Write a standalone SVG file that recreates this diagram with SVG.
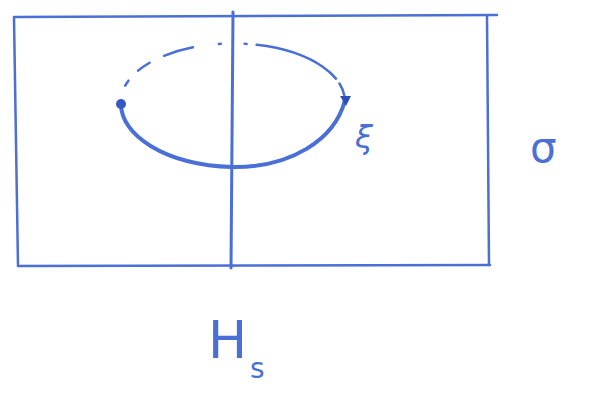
<svg xmlns="http://www.w3.org/2000/svg" width="596" height="393" viewBox="0 0 596 393">
<style>
.ln{fill:none;stroke:#4a6fd6;stroke-linecap:round;stroke-linejoin:round}
.lb{fill:#4a6fd6;font-family:"DejaVu Sans",sans-serif}
</style>
<rect width="596" height="393" fill="#ffffff"/>
<g id="plane">
<path class="ln" stroke-width="2.5" d="M14,17 L497,15"/>
<path class="ln" stroke-width="2.5" d="M14,18 L18,266 L490,265"/>
<path class="ln" stroke-width="2.5" d="M487,16 L489,265"/>
</g>
<g id="axis">
<path class="ln" stroke-width="3" stroke="#3f63cf" d="M233,12 L231,268"/>
</g>
<g id="loop">
<path class="ln" stroke-width="2.5" stroke-dasharray="0 18 6 14 14 16 30 26 2 24 2 10 70" d="M121,103 A112,58 0 0 1 345,100"/>
<path class="ln" stroke-width="4" stroke="#3558c4" d="M121,103 C120,135 165,165 232,167 C290,168 335,140 345,100"/>
<circle cx="121" cy="104" r="5" fill="#3558c4"/>
<path d="M340,96 L351,96 L346,106 Z" fill="#2f4fb8"/>
</g>
<g id="labels">
<text class="lb" x="355" y="148" font-size="32" font-style="italic">ξ</text>
<text class="lb" x="530" y="162" font-size="42">σ</text>
<text class="lb" x="208" y="358" font-size="52">H</text>
<text class="lb" x="250" y="378" font-size="28">s</text>
</g>
</svg>
